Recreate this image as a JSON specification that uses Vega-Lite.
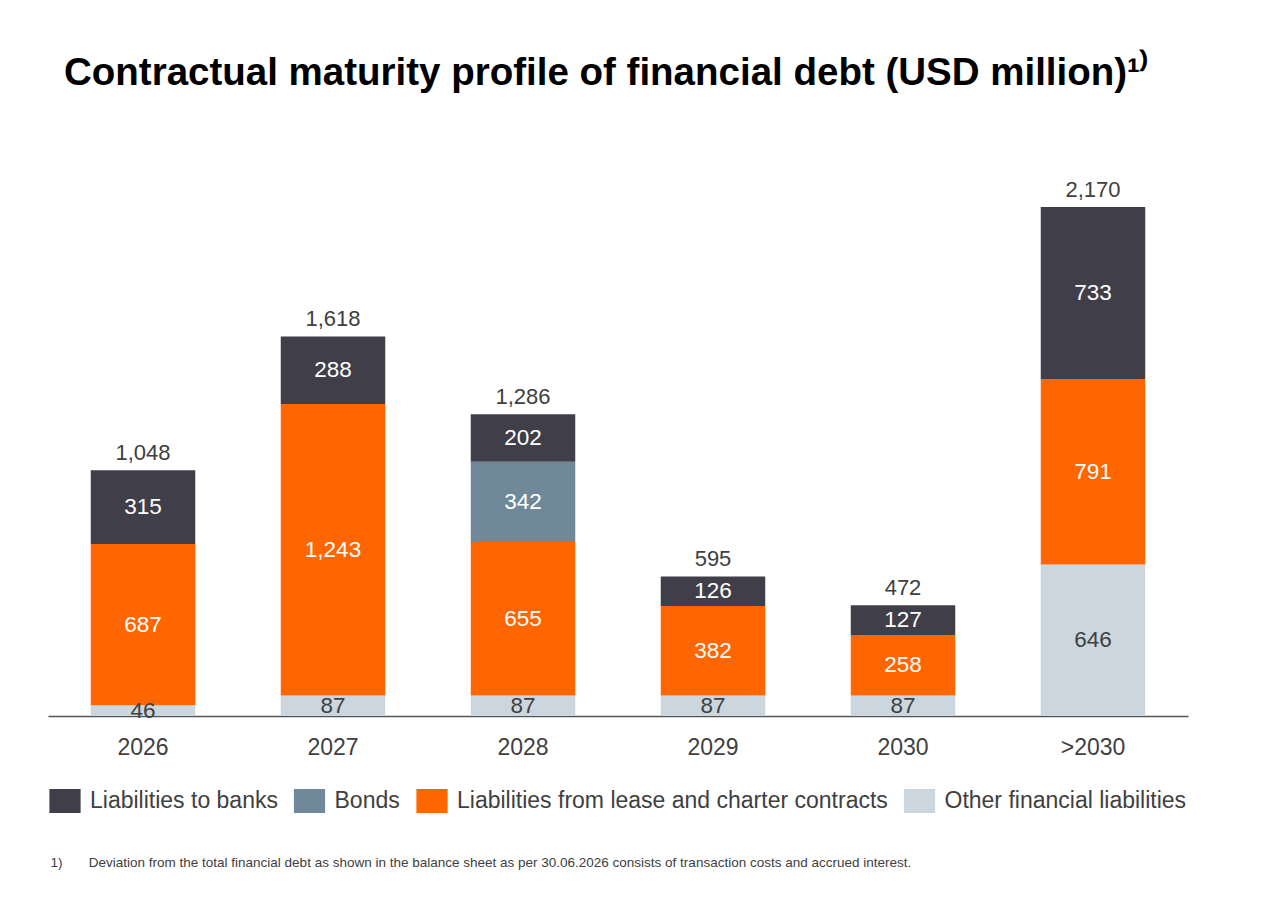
{
  "$schema": "https://vega.github.io/schema/vega-lite/v6.json",
  "width": 1140,
  "height": 563,
  "autosize": {"type": "none"},
  "padding": {"left": 48, "top": 153, "right": 92, "bottom": 186},
  "background": "white",
  "config": {
    "view": {"stroke": null},
    "font": "Liberation Sans",
    "text": {"font": "Liberation Sans"}
  },
  "title": {
    "text": "Contractual maturity profile of financial debt (USD million)¹⁾",
    "anchor": "start",
    "frame": "group",
    "dx": 16,
    "offset": 30,
    "baseline": "alphabetic",
    "fontSize": 38.5,
    "fontWeight": "bold",
    "font": "Liberation Sans",
    "color": "#000000"
  },
  "data": {
    "values": [
      {"year": "2026", "category": "Other financial liabilities", "value": 46},
      {"year": "2026", "category": "Liabilities from lease and charter contracts", "value": 687},
      {"year": "2026", "category": "Liabilities to banks", "value": 315},
      {"year": "2027", "category": "Other financial liabilities", "value": 87},
      {"year": "2027", "category": "Liabilities from lease and charter contracts", "value": 1243},
      {"year": "2027", "category": "Liabilities to banks", "value": 288},
      {"year": "2028", "category": "Other financial liabilities", "value": 87},
      {"year": "2028", "category": "Liabilities from lease and charter contracts", "value": 655},
      {"year": "2028", "category": "Bonds", "value": 342},
      {"year": "2028", "category": "Liabilities to banks", "value": 202},
      {"year": "2029", "category": "Other financial liabilities", "value": 87},
      {"year": "2029", "category": "Liabilities from lease and charter contracts", "value": 382},
      {"year": "2029", "category": "Liabilities to banks", "value": 126},
      {"year": "2030", "category": "Other financial liabilities", "value": 87},
      {"year": "2030", "category": "Liabilities from lease and charter contracts", "value": 258},
      {"year": "2030", "category": "Liabilities to banks", "value": 127},
      {"year": ">2030", "category": "Other financial liabilities", "value": 646},
      {"year": ">2030", "category": "Liabilities from lease and charter contracts", "value": 791},
      {"year": ">2030", "category": "Liabilities to banks", "value": 733}
    ]
  },
  "transform": [
    {"calculate": "indexof(['Other financial liabilities','Liabilities from lease and charter contracts','Bonds','Liabilities to banks'], datum.category)", "as": "ord"}
  ],
  "encoding": {
    "x": {
      "field": "year",
      "type": "nominal",
      "sort": ["2026", "2027", "2028", "2029", "2030", ">2030"],
      "scale": {"paddingInner": 0.45, "paddingOuter": 0.225},
      "axis": {
        "title": "1)\u00a0\u00a0\u00a0\u00a0\u00a0\u00a0\u00a0Deviation from the total financial debt as shown in the balance sheet as per 30.06.2026 consists of transaction costs and accrued interest.",
        "titleFontSize": 13.5,
        "titleFontWeight": "normal",
        "titleColor": "#404040",
        "titleFont": "Liberation Sans",
        "titleAnchor": "start",
        "titleAlign": "left",
        "titleX": 2,
        "titleY": 150,
        "titleBaseline": "alphabetic",
        "labelAngle": 0,
        "labelFontSize": 23,
        "labelColor": "#404040",
        "labelFont": "Liberation Sans",
        "labelPadding": 20,
        "ticks": false,
        "domainColor": "#555555",
        "domainWidth": 1.5
      }
    }
  },
  "layer": [
    {
      "mark": {"type": "bar"},
      "encoding": {
        "y": {
          "field": "value",
          "type": "quantitative",
          "stack": "zero",
          "scale": {"domain": [0, 2400], "nice": false, "zero": true},
          "axis": null
        },
        "order": {"field": "ord", "type": "quantitative", "sort": "ascending"},
        "color": {
          "field": "category",
          "type": "nominal",
          "scale": {
            "domain": ["Liabilities to banks", "Bonds", "Liabilities from lease and charter contracts", "Other financial liabilities"],
            "range": ["#403F49", "#6F889A", "#FF6600", "#CBD6DF"]
          },
          "legend": {
            "title": null,
            "orient": "none",
            "legendX": 5,
            "legendY": 636,
            "direction": "horizontal",
            "symbolType": "M-1.3,-1L1.3,-1L1.3,1L-1.3,1Z",
            "symbolSize": 576,
            "symbolStrokeWidth": 0,
            "symbolOpacity": 1,
            "labelFontSize": 23,
            "labelColor": "#404040",
            "labelFont": "Liberation Sans",
            "labelOffset": 13,
            "labelLimit": 600,
            "columnPadding": 15.5
          }
        }
      }
    },
    {
      "transform": [
        {"stack": "value", "groupby": ["year"], "sort": [{"field": "ord", "order": "ascending"}], "as": ["y0", "y1"]},
        {"calculate": "(datum.y0 + datum.y1) / 2", "as": "mid"}
      ],
      "mark": {"type": "text", "fontSize": 22.5, "baseline": "middle", "align": "center"},
      "encoding": {
        "y": {"field": "mid", "type": "quantitative", "scale": {"domain": [0, 2400], "nice": false}, "axis": null},
        "text": {"field": "value", "type": "quantitative", "format": ","},
        "color": {
          "condition": {"test": "datum.category === 'Other financial liabilities'", "value": "#404040"},
          "value": "#ffffff"
        }
      }
    },
    {
      "transform": [
        {"aggregate": [{"op": "sum", "field": "value", "as": "total"}], "groupby": ["year"]}
      ],
      "mark": {"type": "text", "fontSize": 22, "baseline": "bottom", "align": "center", "dy": -5, "color": "#404040"},
      "encoding": {
        "y": {"field": "total", "type": "quantitative", "scale": {"domain": [0, 2400], "nice": false}, "axis": null},
        "text": {"field": "total", "type": "quantitative", "format": ","}
      }
    }
  ]
}
